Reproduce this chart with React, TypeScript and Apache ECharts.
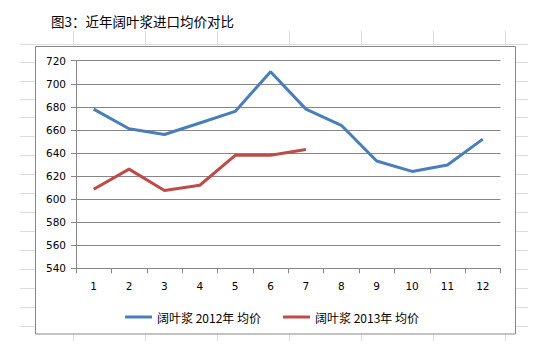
import React, { useEffect, useRef } from "react";
import * as echarts from "echarts";

const months = ["1", "2", "3", "4", "5", "6", "7", "8", "9", "10", "11", "12"];
const price2012 = [678, 661, 656, 666, 676, 710.5, 678, 664, 633, 624, 629.5, 652];
const price2013 = [608.5, 626, 607.5, 612, 638, 638, 643];
const seriesNames = ["阔叶浆 2012年 均价", "阔叶浆 2013年 均价"];
const titleText = "图3：近年阔叶浆进口均价对比";

const rowLines = [44, 62, 81, 99, 117, 136, 155, 174, 193, 212, 231, 250, 269, 288, 307, 326];
const colLines = [73, 145, 217, 289, 361, 433, 505];

export default function App() {
  const ref = useRef<HTMLDivElement>(null);
  useEffect(() => {
    if (!ref.current) return;
    const chart = echarts.init(ref.current, undefined, { renderer: "svg" });
    const sheetColor = "#dcdcdc";
    const graphics: any[] = [];
    rowLines.forEach((y) =>
      graphics.push({
        type: "line",
        z: 0,
        silent: true,
        shape: { x1: 20, y1: y + 0.5, x2: 528, y2: y + 0.5 },
        style: { stroke: sheetColor, lineWidth: 1 },
      })
    );
    colLines.forEach((x) =>
      graphics.push({
        type: "line",
        z: 0,
        silent: true,
        shape: { x1: x + 0.5, y1: 31, x2: x + 0.5, y2: 341 },
        style: { stroke: sheetColor, lineWidth: 1 },
      })
    );
    graphics.push({
      type: "rect",
      z: 1,
      silent: true,
      shape: { x: 35.5, y: 46.5, width: 480, height: 287.5 },
      style: { fill: "#ffffff", stroke: "#868686", lineWidth: 1 },
    });
    chart.setOption({
      animation: false,
      backgroundColor: "#ffffff",
      title: {
        text: titleText,
        left: 46,
        top: 9,
        textStyle: {
          fontFamily: "Noto Sans CJK SC",
          fontSize: 13.5,
          fontWeight: "normal",
          color: "#000000",
        },
      },
      graphic: graphics,
      grid: { left: 76, right: 46.5, top: 60.7, bottom: 83.7 },
      legend: {
        left: 120,
        top: 306,
        z: 5,
        itemWidth: 27,
        itemHeight: 3,
        itemGap: 22,
        icon: "rect",
        textStyle: { fontFamily: "Noto Sans CJK SC", fontSize: 12, color: "#000000" },
        data: seriesNames,
      },
      xAxis: {
        type: "category",
        data: months,
        boundaryGap: true,
        z: 3,
        axisLine: { lineStyle: { color: "#868686", width: 1 } },
        axisTick: { show: true, length: 5, lineStyle: { color: "#868686" } },
        axisLabel: { margin: 12, fontFamily: "DejaVu Sans", fontSize: 10.5, color: "#000000" },
        splitLine: { show: false },
      },
      yAxis: {
        type: "value",
        min: 540,
        max: 720,
        interval: 20,
        z: 3,
        axisLine: { show: true, lineStyle: { color: "#868686", width: 1 } },
        axisTick: { show: true, length: 5, lineStyle: { color: "#868686" } },
        axisLabel: { margin: 10, fontFamily: "DejaVu Sans", fontSize: 10.5, color: "#000000" },
        splitLine: { show: true, lineStyle: { color: "#868686", width: 1 } },
      },
      series: [
        {
          name: seriesNames[0],
          type: "line",
          data: price2012,
          z: 4,
          symbol: "none",
          lineStyle: { color: "#4a7ebb", width: 3 },
          itemStyle: { color: "#4a7ebb" },
        },
        {
          name: seriesNames[1],
          type: "line",
          data: price2013,
          z: 4,
          symbol: "none",
          lineStyle: { color: "#be4b48", width: 3 },
          itemStyle: { color: "#be4b48" },
        },
      ],
    });
    return () => chart.dispose();
  }, []);
  return (
    <div
      ref={ref}
      style={{ position: "absolute", left: 0, top: 0, width: 547, height: 352 }}
    />
  );
}
